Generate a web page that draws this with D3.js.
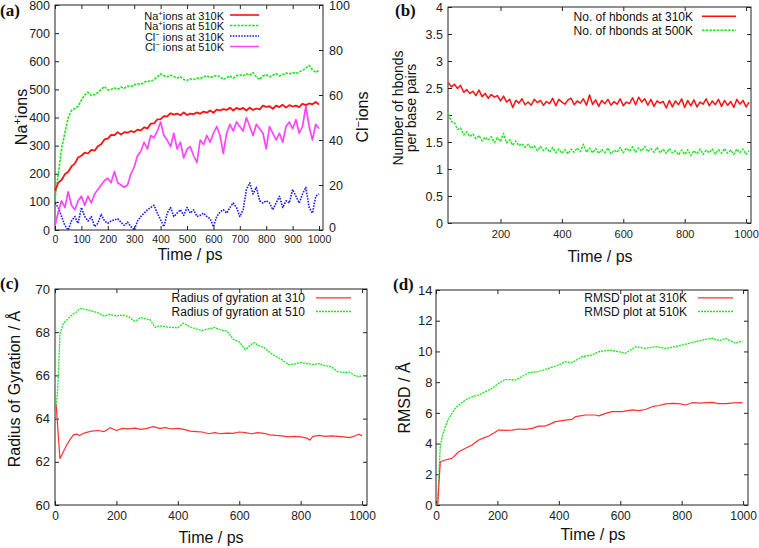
<!DOCTYPE html>
<html><head><meta charset="utf-8">
<script src="https://cdn.jsdelivr.net/npm/d3@7"></script>
<style>
html,body{margin:0;padding:0;background:#fff;}
svg{display:block;}
</style></head><body>
<svg id="chart" width="759" height="548"></svg>
<script>
// ---------------- DATA ----------------
// (a) ion counts, sampled every 12.5 ps from 0 to 1000 ps
const ionTime = d3.range(0, 1000.01, 12.5);
const na310 = [140,168,178,198,207,226,236,258,264,275,
  272,285,282,298,305,322,325,338,337,348,
  339,348,346,352,348,357,354,365,361,378,
  379,393,394,405,404,415,410,414,408,418,
  409,414,412,418,413,421,417,425,417,428,
  425,430,427,435,425,434,429,434,425,435,
  427,432,429,442,438,440,431,442,437,445,
  435,444,439,442,437,449,444,450,447,455,446];
const na510 = [110,200,290,345,400,425,432,440,462,480,
  490,478,482,488,500,510,498,500,505,500,
  508,504,512,510,516,520,518,525,530,528,
  535,545,555,548,545,550,545,540,545,535,
  532,538,535,540,538,545,548,542,546,550,
  545,535,542,548,540,548,552,548,555,550,
  560,545,535,548,552,545,550,556,548,552,
  558,555,560,556,562,568,575,585,570,560,568];
const cl310 = [12,10,6,2,0,4,6,3,10,6,
  4,6,1.5,3,7,4,3,4,4.5,5,
  3.5,2,3.5,1.5,0,4,6,7.5,9,10,
  11,7.5,4.5,1.5,7.5,10,6,7.5,9,6.5,
  10,7.5,9,6,6.5,7.5,6,5,1.5,6,
  8,9,7.5,10,12,10,6,9,18,21,
  16,19,13,12,13,12,9,12,15,10,
  13,12,18,15,12,16,19,10,7.5,15,16];
const cl510 = [2,8,13,10,17,11,9,13,15,11,
  15,12,16,18,20,22,23,21,26,21,
  20,19,20,25,28,33,35,39,36,42,
  41,44,48,42,40,37,43,36,39,32,
  36,37,33,30,40,38,42,39,43,46,
  42,34,43,47,44,48,46,44,50,46,
  42,47,45,43,36,46,43,40,43,39,
  46,48,45,49,43,46,55,46,40,47,45];

// (b) hydrogen bonds per base pair, every 10 ps from 30 to 1010 ps
const hbTime = d3.range(30, 1010.01, 10);
const hb310 = [2.60,2.52,2.57,2.49,2.55,2.42,2.47,2.40,2.44,2.36,
  2.46,2.34,2.40,2.31,2.38,2.33,2.36,2.26,2.35,2.24,
  2.29,2.14,2.27,2.22,2.30,2.19,2.24,2.18,2.29,2.23,
  2.27,2.18,2.25,2.21,2.31,2.17,2.29,2.24,2.20,2.28,
  2.31,2.19,2.26,2.22,2.30,2.18,2.37,2.20,2.28,2.16,
  2.27,2.21,2.29,2.18,2.25,2.20,2.30,2.17,2.24,2.21,
  2.32,2.19,2.33,2.24,2.30,2.18,2.29,2.16,2.26,2.22,
  2.25,2.13,2.27,2.15,2.26,2.19,2.30,2.14,2.27,2.17,
  2.28,2.15,2.24,2.20,2.30,2.17,2.26,2.19,2.29,2.16,
  2.27,2.18,2.25,2.14,2.29,2.20,2.27,2.15,2.24];
const hb500 = [2.02,1.88,1.86,1.73,1.76,1.63,1.69,1.60,1.65,1.56,
  1.62,1.52,1.59,1.53,1.60,1.49,1.58,1.51,1.66,1.48,
  1.54,1.44,1.52,1.43,1.47,1.40,1.46,1.38,1.43,1.34,
  1.42,1.34,1.39,1.31,1.40,1.30,1.37,1.29,1.36,1.28,
  1.37,1.31,1.39,1.32,1.46,1.31,1.39,1.30,1.38,1.29,
  1.36,1.30,1.39,1.28,1.35,1.31,1.40,1.30,1.39,1.33,
  1.41,1.31,1.39,1.33,1.42,1.32,1.38,1.31,1.40,1.30,
  1.37,1.29,1.38,1.30,1.34,1.26,1.35,1.27,1.36,1.25,
  1.34,1.28,1.37,1.27,1.35,1.30,1.37,1.28,1.36,1.29,
  1.38,1.29,1.35,1.27,1.37,1.30,1.37,1.27,1.34];

// (c) radius of gyration
const rgTime310 = [4,16,25,38,50,60,70,80,90,100,
  120,140,160,180,200,220,240,260,280,300,
  320,340,360,380,400,420,440,460,480,500,
  520,540,560,580,600,620,640,660,680,700,
  720,740,760,780,800,820,830,840,860,880,
  900,920,940,960,980,990,1000];
const rg310 = [64.6,62.15,62.4,62.78,63.05,63.25,63.28,63.22,63.3,63.35,
  63.42,63.45,63.4,63.58,63.45,63.55,63.52,63.56,63.5,63.55,
  63.63,63.55,63.58,63.52,63.55,63.5,63.42,63.4,63.38,63.3,
  63.35,63.3,63.33,63.32,63.38,63.35,63.3,63.35,63.32,63.25,
  63.22,63.2,63.15,63.18,63.15,63.1,63.0,63.18,63.22,63.18,
  63.2,63.18,63.15,63.12,63.22,63.28,63.2];
const rgTime510 = [4,8,11,16,27,38,49,60,71,82,
  100,120,140,160,180,200,220,240,260,280,
  300,310,326,340,360,380,400,418,440,460,
  480,500,520,540,560,580,600,620,640,650,
  660,680,700,720,740,760,780,800,820,840,
  860,880,900,920,940,960,975,990,1000];
const rg510 = [64.6,65.2,66.0,67.9,68.4,68.55,68.72,68.85,68.95,69.1,
  69.05,68.98,68.9,68.75,68.82,68.75,68.8,68.72,68.5,68.68,
  68.6,68.58,68.22,68.3,68.25,68.22,68.2,68.42,68.25,68.15,
  68.08,68.15,68.22,68.1,68.05,67.68,67.55,67.2,67.45,67.52,
  67.4,67.3,67.05,66.88,66.72,66.5,66.52,66.6,66.55,66.5,
  66.55,66.45,66.4,66.18,66.14,66.15,66.0,65.94,66.0];

// (d) RMSD
const rmsdTime310 = [0,6,10,14,30,52,74,96,117,139,
  160,172,190,204,225,248,269,291,313,334,
  356,375,389,405,421,443,454,470,487,519,
  530,552,573,606,639,660,682,704,726,748,
  770,791,813,834,860,880,900,920,943,970,998];
const rmsd310 = [0,0.1,1.5,2.82,2.93,3.04,3.47,3.69,3.91,4.23,
  4.4,4.49,4.7,4.88,4.86,4.88,4.95,4.93,4.99,5.14,
  5.14,5.3,5.43,5.48,5.53,5.58,5.75,5.8,5.86,5.86,
  5.8,5.97,6.08,6.08,6.19,6.15,6.22,6.4,6.48,6.58,
  6.62,6.6,6.51,6.66,6.64,6.66,6.68,6.6,6.6,6.65,6.66];
const rmsdTime510 = [0,6,11,14,20,30,41,52,63,74,
  96,117,139,161,183,204,226,259,280,302,
  334,367,400,421,443,476,508,530,563,595,
  617,650,682,715,748,780,813,845,878,900,
  922,943,976,998];
const rmsd510 = [0,0.3,2.7,3.8,4.45,5.1,5.64,5.97,6.3,6.51,
  6.84,7.05,7.16,7.38,7.6,7.92,8.18,8.14,8.36,8.62,
  8.68,8.9,9.12,9.33,9.27,9.66,9.77,9.98,10.09,9.98,
  9.88,10.31,10.2,10.31,10.2,10.31,10.48,10.63,10.79,10.85,
  10.7,10.85,10.53,10.69];

// tick values
const ticksA_x = [0,100,200,300,400,500,600,700,800,900,1000];
const ticksA_y = [0,100,200,300,400,500,600,700,800];
const ticksA_y2 = [0,20,40,60,80,100];
const ticksB_x = [200, 400, 600, 800, 1000];
const ticksB_y = [0, 0.5, 1, 1.5, 2, 2.5, 3, 3.5, 4];
const ticksC_x = [0, 200, 400, 600, 800, 1000];
const ticksC_y = [60, 62, 64, 66, 68, 70];
const ticksD_x = [0, 200, 400, 600, 800, 1000];
const ticksD_y = [0, 2, 4, 6, 8, 10, 12, 14];

// ---------------- DRAWING ----------------
const FONT = "'Liberation Sans', Arial, Helvetica, sans-serif";
const SERIF = "'Liberation Serif', 'Times New Roman', serif";
const RED = "#ff1010", GREEN = "#19e619", BLUE = "#1a1aee", MAGENTA = "#ff44ff";
const svg = d3.select("#chart");
svg.append("rect").attr("width", 759).attr("height", 548).attr("fill", "#fff");

function panel(o) {
  const x = d3.scaleLinear().domain(o.xDomain).range([o.left, o.right]);
  const y = d3.scaleLinear().domain(o.yDomain).range([o.bottom, o.top]);
  const g = svg.append("g");
  const style = sel => sel.attr("font-family", FONT).attr("color", "#222");

  g.append("g").attr("transform", `translate(0,${o.bottom})`)
    .call(d3.axisBottom(x).tickValues(o.xTicks).tickSizeInner(-4).tickSizeOuter(0).tickPadding(o.xPad).tickFormat(d3.format("d")))
    .call(style).attr("font-size", o.xFont)
    .call(s => s.select(".domain").remove());
  g.append("g").attr("transform", `translate(0,${o.top})`)
    .call(d3.axisTop(x).tickValues(o.xTicks).tickSizeInner(-4).tickSizeOuter(0).tickFormat(""))
    .call(style).call(s => s.select(".domain").remove())
    .call(s => s.selectAll("text").remove());
  g.append("g").attr("transform", `translate(${o.left},0)`)
    .call(d3.axisLeft(y).tickValues(o.yTicks).tickSizeInner(-4).tickSizeOuter(0).tickPadding(o.yPad).tickFormat(o.yFmt || d3.format("d")))
    .call(style).attr("font-size", o.yFont)
    .call(s => s.select(".domain").remove());
  if (!o.noRightMirror) {
    g.append("g").attr("transform", `translate(${o.right},0)`)
      .call(d3.axisRight(y).tickValues(o.yTicks).tickSizeInner(-4).tickSizeOuter(0).tickFormat(""))
      .call(style).call(s => s.select(".domain").remove())
      .call(s => s.selectAll("text").remove());
  }
  g.append("rect").attr("x", o.left).attr("y", o.top)
    .attr("width", o.right - o.left).attr("height", o.bottom - o.top)
    .attr("fill", "none").attr("stroke", "#222").attr("stroke-width", 1);
  return {g, x, y};
}

function drawLine(p, xs, ys, color, width, dash, yScale) {
  const ysc = yScale || p.y;
  p.g.append("path").datum(d3.zip(xs, ys))
    .attr("fill", "none").attr("stroke", color).attr("stroke-width", width)
    .attr("stroke-linejoin", "round")
    .attr("stroke-dasharray", dash || null)
    .attr("d", d3.line().x(d => p.x(d[0])).y(d => ysc(d[1])));
}

function addParts(t, parts, size) {
  let back = 0;
  parts.forEach(pt => {
    if (typeof pt === "string") {
      const ts = t.append("tspan").text(pt);
      if (back) { ts.attr("dy", back); back = 0; }
    } else {
      t.append("tspan").attr("dy", -size * 0.36).attr("font-size", size * 0.7).text(pt.sup);
      back = size * 0.36;
    }
  });
}

function legendRow(p, textEnd, x1, x2, base, parts, size, color, width, dash) {
  const t = p.g.append("text").attr("x", textEnd).attr("y", base)
    .attr("text-anchor", "end").attr("font-family", FONT).attr("font-size", size).attr("fill", "#111");
  addParts(t, parts, size);
  p.g.append("line").attr("x1", x1).attr("x2", x2).attr("y1", base - 4.5).attr("y2", base - 4.5)
    .attr("stroke", color).attr("stroke-width", width).attr("stroke-dasharray", dash || null);
}

function vLabel(x, yc, parts, size) {
  const t = svg.append("text").attr("transform", `translate(${x},${yc}) rotate(-90)`)
    .attr("text-anchor", "middle").attr("font-family", FONT).attr("font-size", size).attr("fill", "#111");
  addParts(t, parts, size);
}

function hLabel(x, y, str, size) {
  svg.append("text").attr("x", x).attr("y", y).attr("text-anchor", "middle")
    .attr("font-family", FONT).attr("font-size", size).attr("fill", "#111").text(str);
}

function tag(x, y, str) {
  svg.append("text").attr("x", x).attr("y", y).attr("font-family", SERIF)
    .attr("font-weight", "bold").attr("font-size", 17).attr("fill", "#111").text(str);
}

// ---- Panel (a)
const pa = panel({left: 55, right: 323, top: 5, bottom: 230, xDomain: [0, 1015], yDomain: [0, 800],
  xTicks: ticksA_x, yTicks: ticksA_y, xPad: 6, yPad: 5, xFont: 10.5, yFont: 12.5, noRightMirror: true});
const ya2 = d3.scaleLinear().domain([0, 100]).range([230, 5]);
pa.g.append("g").attr("transform", "translate(323,0)")
  .call(d3.axisRight(ya2).tickValues(ticksA_y2).tickSizeInner(-4).tickSizeOuter(0).tickPadding(6))
  .attr("font-family", FONT).attr("font-size", 12.5).attr("color", "#222")
  .call(s => s.select(".domain").remove())
  .call(s => s.selectAll("text").filter(d => d === 0).attr("dy", "0.1em"));
drawLine(pa, ionTime, cl310, BLUE, 1.6, "1.6,1.2", ya2);
drawLine(pa, ionTime, cl510, MAGENTA, 1.7, null, ya2);
drawLine(pa, ionTime, na510, GREEN, 1.6, "2.5,1.2");
drawLine(pa, ionTime, na310, RED, 1.8);
legendRow(pa, 224, 230, 259, 19.5, ["Na", {sup: "+"}, "ions at 310K"], 11, RED, 1.6);
legendRow(pa, 224, 230, 259, 30, ["Na", {sup: "+"}, "ions at 510K"], 11, GREEN, 1.5, "2.5,1.2");
legendRow(pa, 224, 230, 259, 40.5, ["Cl", {sup: "\u2212"}, " ions at 310K"], 11, BLUE, 1.6, "1.6,1.2");
legendRow(pa, 224, 230, 259, 51, ["Cl", {sup: "\u2212"}, " ions at 510K"], 11, MAGENTA, 1.5);
vLabel(27, 117, ["Na", {sup: "+"}, "ions"], 16);
vLabel(368, 117, ["Cl", {sup: "\u2212"}, "ions"], 16);
hLabel(190, 260, "Time / ps", 16);
tag(0, 16, "(a)");

// ---- Panel (b)
const pb = panel({left: 448, right: 751, top: 7, bottom: 223, xDomain: [29, 1016], yDomain: [0, 4],
  xTicks: ticksB_x, yTicks: ticksB_y, xPad: 7.5, yPad: 5, xFont: 11, yFont: 12.5, yFmt: d3.format("")});
drawLine(pb, hbTime, hb500, GREEN, 1.4, "2.5,1.2");
drawLine(pb, hbTime, hb310, RED, 1.5);
legendRow(pb, 693, 702, 736, 20.7, ["No. of hbonds at 310K"], 12, RED, 1.6);
legendRow(pb, 693, 702, 736, 34.7, ["No. of hbonds at 500K"], 12, GREEN, 1.5, "2.5,1.2");
vLabel(403, 108, ["Number of hbonds"], 14);
vLabel(416, 108, ["per base pairs"], 14);
hLabel(600, 262, "Time / ps", 16);
tag(395, 16, "(b)");

// ---- Panel (c)
const pc = panel({left: 55, right: 367, top: 289, bottom: 505, xDomain: [0, 1016], yDomain: [60, 70],
  xTicks: ticksC_x, yTicks: ticksC_y, xPad: 6.5, yPad: 5, xFont: 12, yFont: 13});
drawLine(pc, rgTime510, rg510, GREEN, 1.3, "2,1");
drawLine(pc, rgTime310, rg310, "#ff3030", 1.2);
legendRow(pc, 305, 316, 351, 302.3, ["Radius of gyration at 310"], 12, "#ff3030", 1.2);
legendRow(pc, 305, 316, 351, 316, ["Radius of gyration at 510"], 12, GREEN, 1.3, "2,1");
vLabel(20, 389, ["Radius of Gyration / \u00C5"], 16);
hLabel(211, 543, "Time / ps", 16);
tag(0, 289, "(c)");

// ---- Panel (d)
const pd = panel({left: 436, right: 748, top: 290, bottom: 505, xDomain: [0, 1016], yDomain: [0, 14],
  xTicks: ticksD_x, yTicks: ticksD_y, xPad: 6.5, yPad: 3.5, xFont: 12, yFont: 13});
drawLine(pd, rmsdTime510, rmsd510, GREEN, 1.3, "2,1");
drawLine(pd, rmsdTime310, rmsd310, "#ff3030", 1.2);
legendRow(pd, 687, 698, 733, 302.3, ["RMSD plot at 310K"], 12, "#ff3030", 1.2);
legendRow(pd, 687, 698, 733, 316, ["RMSD plot at 510K"], 12, GREEN, 1.3, "2,1");
vLabel(410, 398, ["RMSD / \u00C5"], 16);
hLabel(593, 540, "Time / ps", 16);
tag(393, 289.5, "(d)");
</script>
</body></html>
